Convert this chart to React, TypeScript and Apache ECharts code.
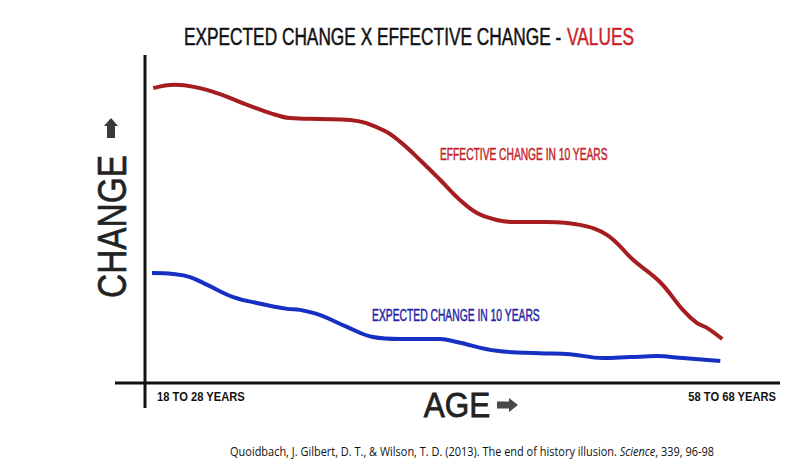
import React, { useEffect, useRef } from "react";
import * as echarts from "echarts";

// x: position along age axis (0 = 18-28 years, 100 = right end of axis), y: relative change (0-100)
const effectiveX = [1.3, 4.7, 7.9, 11.8, 15.7, 19.7, 22.8, 27.6, 32.3, 37.5, 40.2, 43.3, 46.5, 49.6, 52.3, 55.4, 58.0, 63.3, 68.5, 72.8, 76.9, 81.1, 84.7, 86.9, 88.5, 90.9];
const effectiveY = [89.9, 90.9, 90.2, 88.1, 85.1, 82.3, 80.8, 80.5, 80.2, 77.1, 73.5, 68.0, 61.9, 55.8, 51.8, 49.7, 49.1, 49.1, 48.2, 45.1, 37.5, 30.8, 22.3, 18.3, 16.8, 13.4];
const expectedX = [1.1, 4.4, 7.1, 9.8, 13.9, 17.6, 22.4, 24.4, 27.6, 31.8, 35.9, 40.2, 46.5, 49.1, 55.4, 62.2, 66.9, 72.1, 76.4, 80.6, 84.7, 90.6];
const expectedY = [33.5, 33.2, 32.3, 29.9, 26.2, 24.4, 22.6, 22.3, 20.7, 17.1, 14.0, 13.4, 13.4, 12.5, 9.8, 9.1, 8.8, 7.6, 7.9, 8.2, 7.6, 6.7];

const seriesNames = ["EFFECTIVE CHANGE IN 10 YEARS", "EXPECTED CHANGE IN 10 YEARS"];
const ageLabels = ["18 TO 28 YEARS", "58 TO 68 YEARS"];
const titleMain = "EXPECTED CHANGE X EFFECTIVE CHANGE - ";
const titleAccent = "VALUES";
const yAxisName = "CHANGE";
const xAxisName = "AGE";
const citationA = "Quoidbach, J. Gilbert, D. T., & Wilson, T. D. (2013). The end of history illusion. ";
const citationJournal = "Science";
const citationB = ", 339, 96-98";

const SANS = "'Liberation Sans', Arial, sans-serif";
const CITE = "'Open Sans', 'Noto Sans', sans-serif";

export default function App() {
  const ref = useRef<HTMLDivElement>(null);
  useEffect(() => {
    if (!ref.current) return;
    const chart = echarts.init(ref.current, null, { renderer: "svg" });
    const zip = (xs: number[], ys: number[]) => xs.map((x, i) => [x, ys[i]]);
    chart.setOption({
      animation: false,
      backgroundColor: "#ffffff",
      grid: { left: 145, right: 20, top: 55, bottom: 86 },
      xAxis: {
        type: "value", min: 0, max: 100,
        axisLine: { show: false }, axisTick: { show: false }, axisLabel: { show: false }, splitLine: { show: false },
      },
      yAxis: {
        type: "value", min: 0, max: 100,
        axisLine: { show: false }, axisTick: { show: false }, axisLabel: { show: false }, splitLine: { show: false },
      },
      series: [
        {
          name: seriesNames[0], type: "line", smooth: 0.4, showSymbol: false,
          data: zip(effectiveX, effectiveY),
          lineStyle: { color: "#a51d1f", width: 4 },
        },
        {
          name: seriesNames[1], type: "line", smooth: 0.4, showSymbol: false,
          data: zip(expectedX, expectedY),
          lineStyle: { color: "#1630c4", width: 4 },
        },
      ],
      graphic: [
        // axes
        { type: "line", shape: { x1: 145, y1: 55, x2: 145, y2: 408 }, style: { stroke: "#111", lineWidth: 3 } },
        { type: "line", shape: { x1: 115, y1: 383, x2: 780, y2: 383 }, style: { stroke: "#111", lineWidth: 3 } },
        // title (two parts so each colour can be stroked slightly for weight)
        {
          type: "text", x: 184, y: 36, scaleX: 0.72,
          style: { text: titleMain, fontFamily: SANS, fontSize: 24, fill: "#111", stroke: "#111", lineWidth: 0.5, verticalAlign: "middle" },
        },
        {
          type: "text", x: 634, y: 36, scaleX: 0.72,
          style: { text: titleAccent, fontFamily: SANS, fontSize: 24, fill: "#cc1f2d", stroke: "#cc1f2d", lineWidth: 0.5, align: "right", verticalAlign: "middle" },
        },
        // series labels
        {
          type: "text", x: 440, y: 155, scaleX: 0.64,
          style: { text: seriesNames[0], fontFamily: SANS, fontSize: 16, fill: "#c4262b", stroke: "#c4262b", lineWidth: 0.5, verticalAlign: "middle" },
        },
        {
          type: "text", x: 372, y: 315.5, scaleX: 0.645,
          style: { text: seriesNames[1], fontFamily: SANS, fontSize: 16, fill: "#2a1fa6", stroke: "#2a1fa6", lineWidth: 0.5, verticalAlign: "middle" },
        },
        // y axis name
        {
          type: "text", x: 112.5, y: 226.5, rotation: Math.PI / 2, scaleX: 0.836,
          style: { text: yAxisName, fontFamily: SANS, fontSize: 40, fill: "#222", stroke: "#222", lineWidth: 0.6, align: "center", verticalAlign: "middle" },
        },
        {
          type: "polygon",
          shape: { points: [[111, 118], [118, 126], [115, 126], [115, 138], [107, 138], [107, 126], [104, 126]] },
          style: { fill: "#3a3a3a" },
        },
        // x axis name
        {
          type: "text", x: 457, y: 405, scaleX: 0.9,
          style: { text: xAxisName, fontFamily: SANS, fontSize: 35, fill: "#222", stroke: "#222", lineWidth: 0.8, align: "center", verticalAlign: "middle" },
        },
        {
          type: "polygon",
          shape: { points: [[497, 401.5], [509, 401.5], [509, 398], [518, 405], [509, 412], [509, 408.5], [497, 408.5]] },
          style: { fill: "#4a4a4a" },
        },
        // age labels
        {
          type: "text", x: 157, y: 397, scaleX: 0.86,
          style: { text: ageLabels[0], fontFamily: SANS, fontWeight: "bold", fontSize: 13, fill: "#111", verticalAlign: "middle" },
        },
        {
          type: "text", x: 776, y: 397, scaleX: 0.86,
          style: { text: ageLabels[1], fontFamily: SANS, fontWeight: "bold", fontSize: 13, fill: "#111", align: "right", verticalAlign: "middle" },
        },
        // citation
        {
          type: "text", x: 472, y: 451, scaleX: 0.843,
          style: {
            text: `{n|${citationA}}{i|${citationJournal}}{n|${citationB}}`,
            align: "center", verticalAlign: "middle",
            rich: {
              n: { fontFamily: CITE, fontSize: 13, fill: "#111" },
              i: { fontFamily: CITE, fontSize: 13, fontStyle: "italic", fill: "#111" },
            },
          },
        },
      ],
    });
    return () => chart.dispose();
  }, []);
  return <div ref={ref} style={{ position: "fixed", left: 0, top: 0, width: 800, height: 469 }} />;
}
